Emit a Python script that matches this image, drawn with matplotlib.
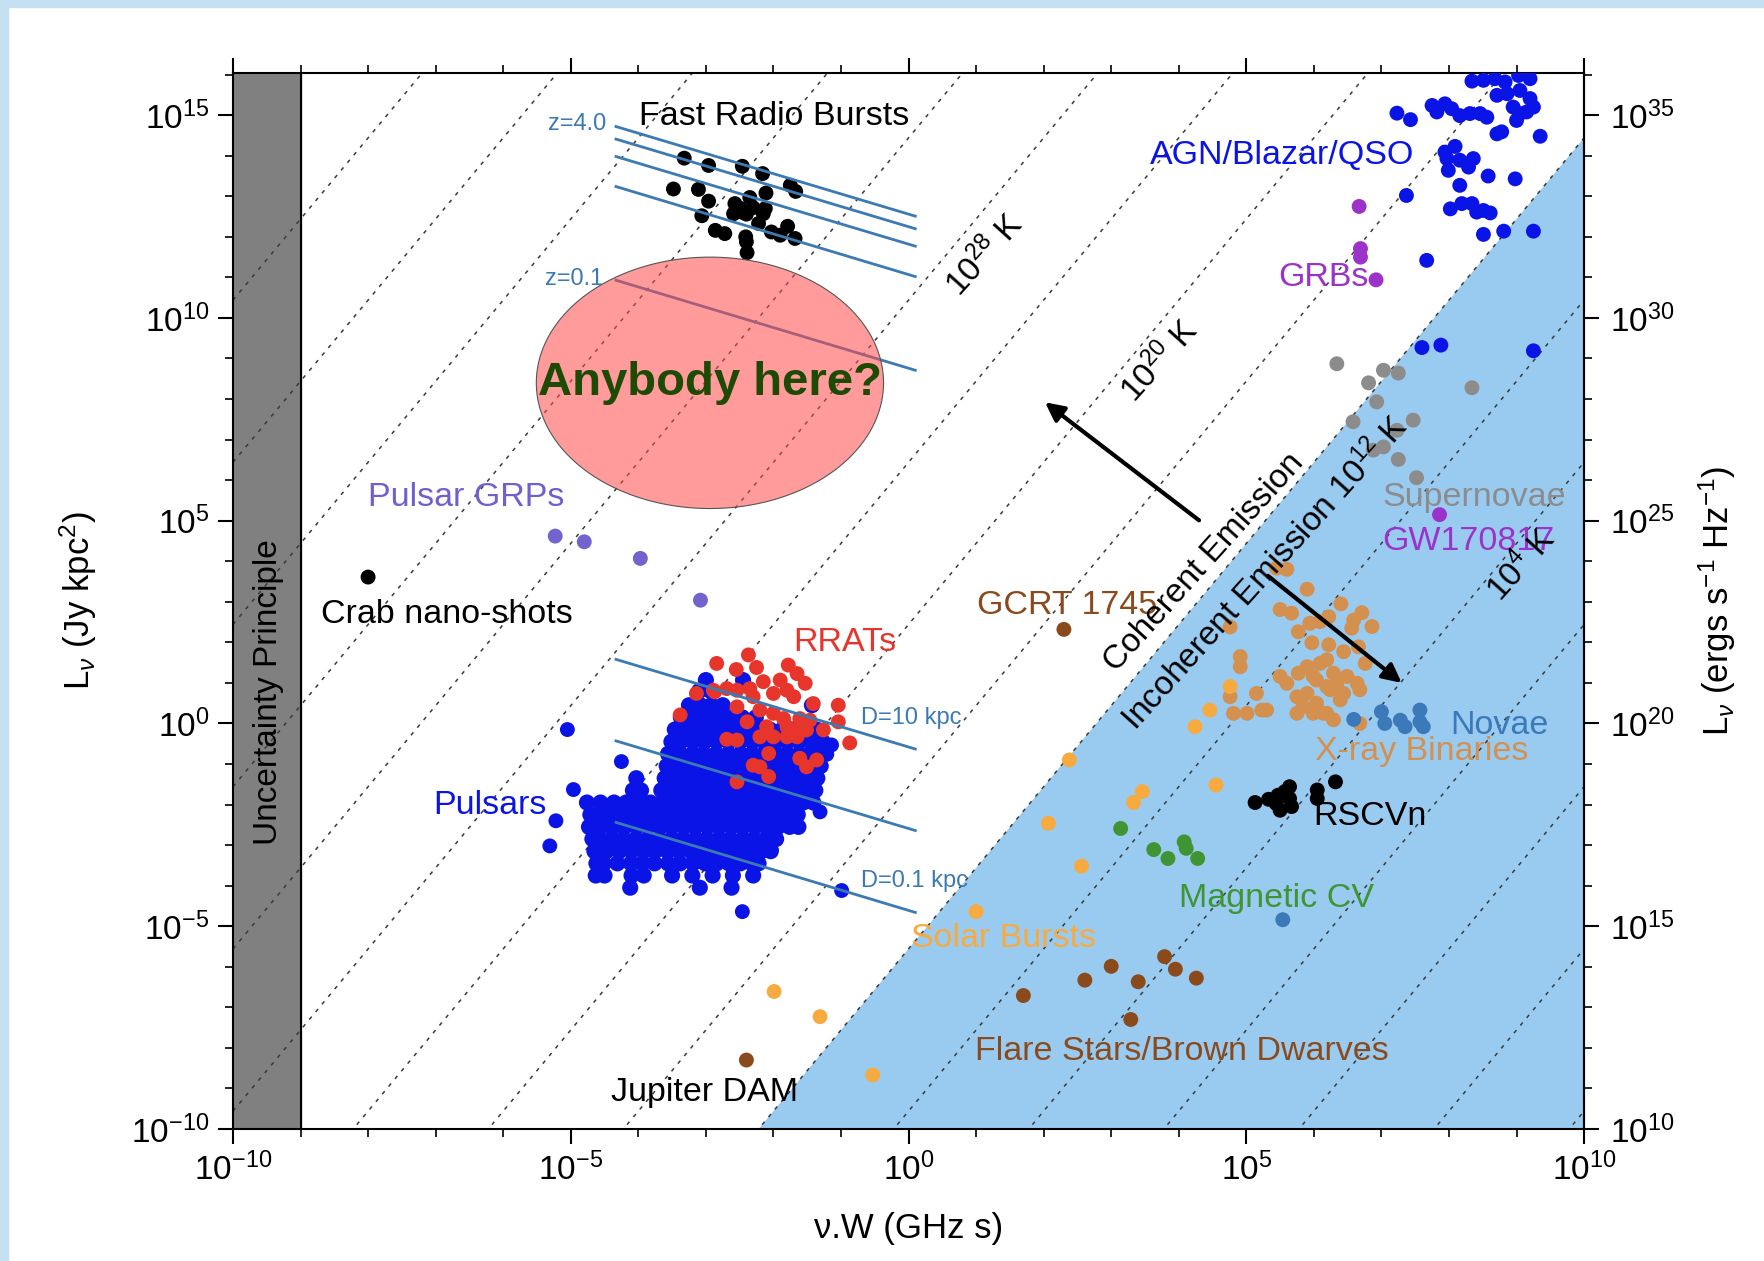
import numpy as np
import matplotlib.pyplot as plt
from matplotlib.patches import Rectangle
from matplotlib.ticker import FixedLocator, NullFormatter

plt.rcParams['font.family'] = ['Liberation Sans', 'DejaVu Sans']
plt.rcParams['mathtext.fontset'] = 'custom'
plt.rcParams['mathtext.rm'] = 'Liberation Sans'
plt.rcParams['mathtext.it'] = 'Liberation Sans:italic'
plt.rcParams['mathtext.bf'] = 'Liberation Sans:bold'

# all values are log10(nu W / GHz s) and log10(L / Jy kpc^2)
frb_w = [-3.32, -2.96, -2.46, -2.16, -1.75, -1.67, -3.48, -3.11, -2.96, -2.11,
         -2.35, -2.57, -2.49, -2.40, -2.12, -2.15, -2.59, -2.22, -3.06, -2.86,
         -2.72, -2.41, -2.40, -2.03, -1.90, -1.79, -1.68, -2.39, -2.52, -2.45, -2.30]
frb_l = [13.94, 13.76, 13.74, 13.56, 13.27, 13.12, 13.18, 13.17, 12.88, 13.08,
         12.97, 12.82, 12.70, 12.56, 12.70, 12.57, 12.57, 12.33, 12.52, 12.16,
         12.08, 12.00, 11.88, 12.12, 12.04, 12.26, 11.96, 11.61, 12.72, 12.60, 12.72]

# pulsars: (log L, [log W ...]) rows of the dense cloud
psr_rows = [
    (1.07, [-3.00, -2.45]),
    (0.80, [-3.10, -2.93]),
    (0.45, [-3.25, -3.08, -2.92, -2.75, -1.43]),
    (0.15, [-3.37, -3.18, -3.01, -2.83, -2.64, -2.46, -2.26]),
    (-0.15, [-3.46, -3.28, -3.11, -2.93, -2.74, -2.58, -2.40, -2.21, -2.05, -1.87, -1.70, -1.52, -1.36]),
    (-0.45, [-3.51, -3.37, -3.19, -3.02, -2.84, -2.66, -2.49, -2.31, -2.14, -1.96, -1.79, -1.62, -1.44, -1.27]),
    (-0.75, [-3.56, -3.38, -3.20, -3.03, -2.85, -2.67, -2.49, -2.32, -2.14, -1.97, -1.80, -1.62, -1.46, -1.30]),
    (-1.05, [-3.58, -3.47, -3.30, -3.12, -2.95, -2.77, -2.60, -2.42, -2.25, -2.07, -1.90, -1.73, -1.56, -1.39, -1.30]),
    (-1.35, [-4.03, -3.61, -3.43, -3.25, -3.07, -2.90, -2.72, -2.55, -2.37, -2.20, -2.02, -1.85, -1.68, -1.51, -1.35]),
    (-1.65, [-4.08, -3.96, -3.66, -3.55, -3.38, -3.20, -3.03, -2.85, -2.68, -2.50, -2.33, -2.15, -1.98, -1.80, -1.63, -1.46, -1.38]),
    (-1.95, [-4.76, -4.56, -4.36, -4.18, -4.00, -3.82, -3.65, -3.47, -3.30, -3.12, -2.95, -2.77, -2.60, -2.42, -2.25, -2.07, -1.90, -1.72, -1.56, -1.41]),
    (-2.25, [-4.71, -4.62, -4.44, -4.26, -4.08, -3.90, -3.72, -3.54, -3.36, -3.18, -3.01, -2.83, -2.66, -2.48, -2.31, -2.13, -1.96, -1.80, -1.64]),
    (-2.55, [-4.73, -4.55, -4.37, -4.20, -4.02, -3.85, -3.67, -3.50, -3.32, -3.15, -2.97, -2.80, -2.62, -2.45, -2.27, -2.10, -1.93, -1.76, -1.63]),
    (-2.85, [-4.68, -4.59, -4.40, -4.22, -4.04, -3.86, -3.69, -3.51, -3.34, -3.16, -2.99, -2.81, -2.64, -2.46, -2.29, -2.11, -1.96]),
    (-3.15, [-4.65, -4.47, -4.28, -4.10, -3.92, -3.75, -3.57, -3.40, -3.22, -3.05, -2.87, -2.70, -2.52, -2.35, -2.18, -2.04]),
    (-3.45, [-4.62, -4.51, -4.31, -4.11, -3.94, -3.76, -3.56, -3.38, -3.19, -3.01, -2.84, -2.66, -2.49, -2.32, -2.22]),
    (-3.75, [-4.63, -4.50, -4.10, -3.92, -3.50, -3.20, -2.90, -2.60, -2.30]),
    (-4.05, [-4.12, -3.09, -2.62]),
]
psr_out_w = [-5.05, -4.25, -4.96, -5.22, -5.31, -0.99, -2.46, -1.14, -1.31, -2.03, -1.21]
psr_out_l = [-0.15, -0.94, -1.63, -2.40, -3.02, -4.12, -4.64, -0.53, -2.18, -3.12, -0.76]

rrat_w = [-2.37, -2.84, -2.55, -2.25, -1.78, -1.65, -1.53, -1.90, -2.15, -2.35, -2.54, -2.69,
          -3.14, -2.87, -2.00, -1.80, -1.70, -2.30, -1.41, -1.04, -2.54, -2.20, -2.00, -1.85,
          -1.61, -1.46, -1.04, -1.26, -2.39, -2.10, -1.80, -1.65, -1.51, -2.20, -2.00, -1.80,
          -1.65, -0.87, -2.69, -2.54, -2.07, -2.30, -2.20, -2.07, -1.61, -1.51, -1.36, -2.54,
          -3.38, -2.89]
rrat_l = [1.69, 1.48, 1.33, 1.38, 1.44, 1.23, 0.99, 1.07, 1.03, 0.86, 0.82, 0.86,
          0.74, 0.78, 0.74, 0.82, 0.66, 0.66, 0.49, 0.45, 0.41, 0.33, 0.25, 0.12,
          0.12, 0.08, 0.04, -0.16, 0.04, -0.08, -0.08, -0.16, -0.16, -0.33, -0.33, -0.33,
          -0.33, -0.48, -0.39, -0.41, -0.74, -1.03, -1.07, -1.31, -0.86, -1.07, -0.90, -1.44,
          0.21, 0.82]

grp_w = [-5.23, -4.80, -3.97, -3.08]
grp_l = [4.62, 4.48, 4.07, 3.04]
crab_w, crab_l = [-8.0], [3.61]

agn_w = [8.34, 8.51, 8.68, 8.83, 9.03, 9.20, 9.05, 8.71, 8.86, 9.20, 9.25, 8.95, 9.00, 9.05,
         9.15, 7.23, 7.43, 7.75, 7.94, 8.04, 7.82, 8.16, 8.31, 8.46, 8.56, 8.71, 8.78, 9.35,
         8.09, 7.94, 7.97, 7.99, 8.16, 8.29, 8.36, 8.16, 8.58, 8.98, 7.37, 8.02, 8.19, 8.34,
         8.41, 8.51, 8.61, 8.51, 8.81, 9.25, 7.67, 7.60, 7.88, 9.25]
agn_l = [15.84, 15.86, 15.90, 15.82, 15.98, 15.90, 15.61, 15.49, 15.53, 15.41, 15.20, 15.20, 14.87, 15.04,
         15.08, 15.05, 14.89, 15.24, 15.28, 15.16, 15.08, 14.99, 15.04, 15.04, 14.95, 14.54, 14.59, 14.48,
         14.23, 14.09, 13.93, 13.64, 13.89, 13.72, 13.93, 13.27, 13.50, 13.43, 13.02, 12.69, 12.82, 12.82,
         12.61, 12.65, 12.59, 12.06, 12.14, 12.14, 11.42, 9.27, 9.33, 9.19]

grb_w = [6.67, 6.69, 6.69, 6.92]
grb_l = [12.75, 11.71, 11.50, 10.94]
gw_w, gw_l = [7.86], [5.15]

sn_w = [6.34, 7.03, 7.25, 6.81, 6.93, 7.47, 6.58, 7.23, 6.88, 7.03, 7.25, 7.52, 8.34]
sn_l = [8.87, 8.71, 8.64, 8.40, 7.93, 7.48, 7.44, 7.23, 6.74, 6.82, 6.51, 6.06, 8.28]

xrb_w = [5.45, 5.60, 5.90, 6.40, 6.71, 6.59, 6.86, 5.50, 5.67, 5.77, 5.94, 6.09, 6.22, 5.97,
         6.22, 6.19, 6.44, 6.66, 6.56, 6.76, 4.91, 4.91, 4.76, 4.76, 5.15, 5.23, 4.81, 5.01,
         5.30, 5.50, 5.60, 5.77, 5.75, 5.90, 6.04, 6.09, 6.29, 6.49, 6.64, 6.68, 6.44, 6.24,
         6.04, 5.84, 5.75, 6.14, 6.29, 5.99, 6.68, 6.39, 6.19, 5.99, 6.19, 5.90, 6.34]
xrb_l = [3.83, 3.80, 3.31, 2.95, 2.73, 2.55, 2.39, 2.81, 2.72, 2.26, 2.47, 2.51, 2.63, 1.99,
         1.94, 1.57, 1.77, 1.89, 2.35, 1.48, 1.65, 1.40, 2.38, 0.66, 0.74, 0.33, 0.25, 0.25,
         0.33, 1.16, 0.99, 1.24, 0.66, 0.74, 1.07, 1.48, 1.24, 1.16, 0.99, 0.83, 0.74, 0.83,
         0.50, 0.42, 0.25, 0.25, 0.09, 0.25, 0.00, 0.58, 0.25, 1.16, 0.91, 1.40, 0.99]

nova_w = [6.59, 7.00, 7.05, 7.28, 7.35, 7.57, 7.57, 7.62, 5.54]
nova_l = [0.10, 0.29, 0.00, 0.08, -0.08, 0.33, 0.04, -0.08, -4.84]

solar_w = [2.38, 4.55, 3.46, 3.33, 2.07, 2.56, 1.00, -1.99, -1.31, -0.53, 4.76, 4.46, 4.24]
solar_l = [-0.90, -1.52, -1.68, -1.95, -2.46, -3.52, -4.64, -6.61, -7.23, -8.67, 0.91, 0.33, -0.08]

mcv_w = [3.14, 3.63, 3.84, 4.08, 4.11, 4.28]
mcv_l = [-2.59, -3.11, -3.33, -2.92, -3.08, -3.33]

rscvn_w = [5.13, 5.33, 5.47, 5.64, 5.64, 5.50, 5.67, 6.05, 6.05, 6.32, 5.44, 5.57]
rscvn_l = [-1.95, -1.87, -1.77, -1.56, -1.85, -2.14, -2.05, -1.64, -1.85, -1.44, -1.97, -1.68]

flare_w = [1.70, 2.61, 3.00, 3.40, 3.79, 3.95, 4.26, 3.29, -2.40]
flare_l = [-6.71, -6.33, -5.99, -6.37, -5.75, -6.06, -6.28, -7.30, -8.30]
gcrt_w, gcrt_l = [2.30], [2.32]

# brightness temperature lines (log T), L = T (nu W)^2 * const
temps = [-12, -8, -4, 0, 4, 8, 12, 16, 20, 24, 28, 32, 36, 40, 44, 48]
tb_const = -17.56

# constant-distance lines
line_w = [-4.33, 0.10]
frb_line_start = [14.72, 14.41, 13.98, 13.24, 10.93]
frb_line_end = [12.51, 12.20, 11.77, 11.02, 8.71]
psr_line_start = [1.58, -0.43, -2.44]
psr_line_end = [-0.63, -2.64, -4.66]


def P(v):
    return 10.0 ** np.asarray(v, dtype=float)


fig = plt.figure(figsize=(17.65, 12.61), dpi=100)
fig.patches.append(Rectangle((0, 0), 8 / 1765, 1, transform=fig.transFigure,
                             color='#c4e0f1', zorder=0))
fig.patches.append(Rectangle((0, 1 - 7 / 1261), 1, 7 / 1261, transform=fig.transFigure,
                             color='#c4e0f1', zorder=0))
ax = fig.add_axes([0.132, 0.1047, 0.7655, 0.8374])
ax.set_xscale('log')
ax.set_yscale('log')
ax.set_xlim(1e-10, 1e10)
ax.set_ylim(1e-10, 10 ** 16.04)

# incoherent region (below 1e12 K)
x0 = (-10 - 12 - tb_const) / 2
ax.fill(P([x0, 10, 10]), P([-10, 12 + 20 + tb_const, -10]), color='#99cbf1', lw=0, zorder=0)

xx = np.array([-10.0, 10.0])
for t in temps:
    ax.plot(P(xx), P(t + 2 * xx + tb_const), ls=(0, (2.5, 4)), color='#3a3a3a', lw=1.1, zorder=1)

ax.axvspan(1e-10, 1e-9, color='#808080', zorder=0.5)
ax.axvline(1e-9, color='k', lw=1.5, zorder=2)

col_line = '#3b7ab3'
for a, b in zip(frb_line_start, frb_line_end):
    ax.plot(P(line_w), P([a, b]), color=col_line, lw=2, zorder=4.5)
for a, b in zip(psr_line_start, psr_line_end):
    ax.plot(P(line_w), P([a, b]), color=col_line, lw=2, zorder=4.5)

psr_w = [w for l, ws in psr_rows for w in ws]
psr_l = [l for l, ws in psr_rows for w in ws]

ms = 115
def dots(w, l, c, s=ms, z=4):
    ax.scatter(P(w), P(l), s=s, c=c, edgecolors='none', zorder=z)

dots(frb_w, frb_l, 'k')
dots(psr_w, psr_l, '#0a14e6', s=135)
dots(psr_out_w, psr_out_l, '#0a14e6')
dots(rrat_w, rrat_l, '#e8352b')
dots(grp_w, grp_l, '#7363cf')
dots(crab_w, crab_l, 'k')
dots(agn_w, agn_l, '#0a14e6')
dots(grb_w, grb_l, '#9b32c9')
dots(gw_w, gw_l, '#9b32c9')
dots(sn_w, sn_l, '#8c8c8c')
dots(xrb_w, xrb_l, '#d4904f')
dots(nova_w, nova_l, '#3b79b9')
dots(solar_w, solar_l, '#f6aa3f')
dots(mcv_w, mcv_l, '#3f9533')
dots(rscvn_w, rscvn_l, 'k')
dots(flare_w, flare_l, '#8b4a1c')
dots(gcrt_w, gcrt_l, '#8b4a1c')

# "Anybody here?" ellipse
tt = np.linspace(0, 2 * np.pi, 300)
ax.fill(P(-2.94 + 2.57 * np.cos(tt)), P(8.40 + 3.10 * np.sin(tt)),
        facecolor='#ff4a4a', alpha=0.55, edgecolor='none', zorder=5)
ax.plot(P(-2.94 + 2.57 * np.cos(tt)), P(8.40 + 3.10 * np.sin(tt)), color='#555555', lw=0.8, zorder=5)
ax.text(P(-2.94), P(8.40), 'Anybody here?', fontsize=34, fontweight='bold', color='#1d4a05',
        ha='center', va='center', zorder=6)

fs = 24.5
def lab(x, y, s, c='k', ha='left', size=fs, **kw):
    ax.text(P(x), P(y), s, color=c, ha=ha, va='center', fontsize=size, zorder=7, **kw)

lab(-3.985, 14.97, 'Fast Radio Bursts')
lab(-4.48, 14.79, 'z=4.0', col_line, ha='right', size=17)
lab(-4.52, 10.97, 'z=0.1', col_line, ha='right', size=17)
lab(-0.70, 0.13, 'D=10 kpc', col_line, size=17)
lab(-0.70, -3.88, 'D=0.1 kpc', col_line, size=17)
lab(-8.0, 5.57, 'Pulsar GRPs', '#6f5fcf')
lab(-8.69, 2.68, 'Crab nano-shots')
lab(-5.35, -2.03, 'Pulsars', '#0a14e6', ha='right')
lab(-1.70, 1.99, 'RRATs', '#e8352b')
lab(3.58, 14.0, 'AGN/Blazar/QSO', '#0a14e6')
lab(5.47, 11.0, 'GRBs', '#9b32c9')
lab(7.01, 5.57, 'Supernovae', '#8c8c8c')
lab(7.01, 4.48, 'GW170817', '#9b32c9')
lab(8.02, -0.04, 'Novae', '#3b79b9')
lab(6.02, -0.70, 'X-ray Binaries', '#d4904f')
lab(5.99, -2.30, 'RSCVn')
lab(4.0, -4.31, 'Magnetic CV', '#3f9533')
lab(0.03, -5.30, 'Solar Bursts', '#f6aa3f')
lab(0.99, -8.09, 'Flare Stars/Brown Dwarves', '#8b4a1c')
lab(1.02, 2.90, 'GCRT 1745', '#8b4a1c')
lab(-4.40, -9.11, 'Jupiter DAM')

rot = dict(rotation=48, rotation_mode='anchor', ha='center', va='center', fontsize=24, zorder=7)
ax.text(P(4.38), P(3.96), 'Coherent Emission', **rot)
ax.text(P(5.28), P(3.71), 'Incoherent Emission 10$^{12}$ K', **rot)
ax.text(P(1.13), P(11.56), '10$^{28}$ K', **rot)
ax.text(P(3.72), P(8.95), '10$^{20}$ K', **rot)
ax.text(P(9.08), P(3.90), '10$^{4}$ K', **rot)
ax.text(P(-9.48), P(0.77), 'Uncertainty Principle', rotation=90, ha='center', va='center',
        fontsize=24, zorder=7)

arr = dict(arrowstyle='-|>', lw=3, color='k', mutation_scale=28, shrinkA=0, shrinkB=0)
ax.annotate('', xy=(P(2.02), P(7.92)), xytext=(P(4.30), P(5.01)), arrowprops=arr, zorder=7)
ax.annotate('', xy=(P(7.30), P(1.00)), xytext=(P(5.32), P(3.64)), arrowprops=arr, zorder=7)

# axes and ticks
xmaj = [-10, -5, 0, 5, 10]
ymaj = [-10, -5, 0, 5, 10, 15]
ax.xaxis.set_major_locator(FixedLocator(P(xmaj)))
ax.xaxis.set_minor_locator(FixedLocator(P(range(-10, 11))))
ax.yaxis.set_major_locator(FixedLocator(P(ymaj)))
ax.yaxis.set_minor_locator(FixedLocator(P(range(-10, 17))))
ax.set_xticklabels(['$10^{%d}$' % v for v in xmaj])
ax.set_yticklabels(['$10^{%d}$' % v for v in ymaj])
ax.xaxis.set_minor_formatter(NullFormatter())
ax.yaxis.set_minor_formatter(NullFormatter())
ax.tick_params(which='major', direction='out', length=11, width=1.5, labelsize=24, top=True, pad=6)
ax.tick_params(which='minor', direction='out', length=6, width=1.2, top=True)
for sp in ax.spines.values():
    sp.set_linewidth(1.5)

sec = ax.secondary_yaxis('right', functions=(lambda y: y * 1e20, lambda y: y / 1e20))
rmaj = [10, 15, 20, 25, 30, 35]
sec.yaxis.set_major_locator(FixedLocator(P(rmaj)))
sec.yaxis.set_minor_locator(FixedLocator(P(range(10, 37))))
sec.set_yticklabels(['$10^{%d}$' % v for v in rmaj])
sec.yaxis.set_minor_formatter(NullFormatter())
sec.tick_params(which='major', direction='out', length=11, width=1.5, labelsize=24, pad=8)
sec.tick_params(which='minor', direction='out', length=6, width=1.2)
sec.spines['right'].set_linewidth(1.5)
fig.text(1717 / 1765, 0.1047 + 0.8374 / 2, 'L$_\\nu$ (ergs s$^{-1}$ Hz$^{-1}$)', fontsize=25,
         rotation=90, ha='center', va='center')

ax.set_ylabel('L$_\\nu$ (Jy kpc$^2$)', fontsize=25)
ax.yaxis.set_label_coords(-0.099, 0.5)
ax.set_xlabel('ν.W (GHz s)', fontsize=25)
ax.xaxis.set_label_coords(0.5, -0.079)

fig.savefig('out.png', dpi=100)
